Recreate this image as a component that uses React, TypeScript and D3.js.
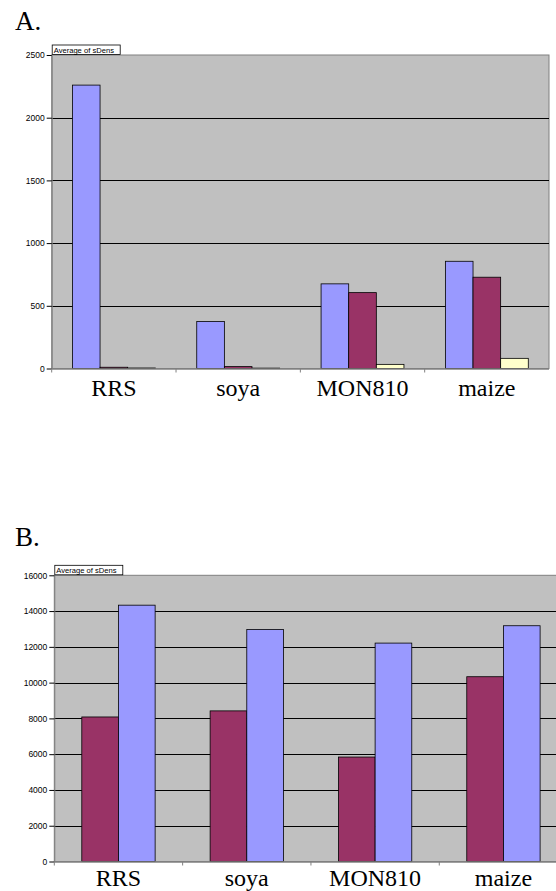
import * as d3 from "d3";
import { useEffect, useRef } from "react";

// categories shared by both panels
const categories = ["RRS", "soya", "MON810", "maize"];

// panel A: three series (blue, purple, pale yellow)
const aSeries = ["blue", "purple", "yellow"];
const aBlue = [2260, 375, 675, 855];
const aPurple = [10, 15, 605, 728];
const aYellow = [4, 3, 33, 81];
const aTicks = [0, 500, 1000, 1500, 2000, 2500];

// panel B: two series (purple, blue)
const bSeries = ["purple", "blue"];
const bPurple = [8080, 8420, 5840, 10330];
const bBlue = [14330, 12970, 12210, 13180];
const bTicks = [0, 2000, 4000, 6000, 8000, 10000, 12000, 14000, 16000];

const colors: Record<string, string> = {
  blue: "#9999ff",
  purple: "#993366",
  yellow: "#ffffcc",
};

const SERIF = "'Liberation Serif', 'Times New Roman', Times, serif";
const SANS = "'Liberation Sans', Arial, sans-serif";

function drawPanel(
  root: d3.Selection<SVGSVGElement, unknown, null, undefined>,
  opts: {
    label: string;
    labelY: number;
    left: number;
    right: number;
    top: number;
    bottom: number;
    max: number;
    ticks: number[];
    series: string[];
    values: number[][];
    catLabelY: number;
  }
) {
  const { left, right, top, bottom } = opts;
  const g = root.append("g");

  // panel letter
  g.append("text")
    .attr("x", 15)
    .attr("y", opts.labelY)
    .attr("font-family", SERIF)
    .style("font-family", SERIF)
    .style("font-size", "27px")
    .text(opts.label);

  const x0 = d3.scaleBand().domain(categories).range([left, right]).padding(0);
  const x1 = d3
    .scaleBand()
    .domain(opts.series)
    .range([0, x0.bandwidth()])
    .paddingInner(0)
    .paddingOuter(0.75);
  const y = d3.scaleLinear().domain([0, opts.max]).range([bottom, top]);

  // plot area
  g.append("rect")
    .attr("x", left)
    .attr("y", top)
    .attr("width", right - left)
    .attr("height", bottom - top)
    .attr("fill", "#c0c0c0")
    .attr("stroke", "#808080")
    .attr("stroke-width", 1);

  // gridlines
  g.selectAll("line.grid")
    .data(opts.ticks.filter((t) => t > 0 && t < opts.max))
    .join("line")
    .attr("class", "grid")
    .attr("x1", left)
    .attr("x2", right)
    .attr("y1", (d) => Math.round(y(d)) + 0.5)
    .attr("y2", (d) => Math.round(y(d)) + 0.5)
    .attr("stroke", "#000")
    .attr("stroke-width", 1);

  // bars
  g.selectAll("g.group")
    .data(categories)
    .join("g")
    .attr("class", "group")
    .attr("transform", (d) => `translate(${x0(d)},0)`)
    .selectAll("rect")
    .data((d, i) => opts.series.map((s, j) => ({ key: s, value: opts.values[j][i] })))
    .join("rect")
    .attr("x", (d) => x1(d.key)!)
    .attr("y", (d) => y(d.value))
    .attr("width", x1.bandwidth())
    .attr("height", (d) => bottom - y(d.value))
    .attr("fill", (d) => colors[d.key])
    .attr("stroke", "#000")
    .attr("stroke-width", 0.8);

  // y axis
  const yAxis = g
    .append("g")
    .attr("transform", `translate(${left},0)`)
    .call(
      d3
        .axisLeft(y)
        .tickValues(opts.ticks)
        .tickFormat(d3.format("d"))
        .tickSize(5)
        .tickPadding(2)
        .tickSizeOuter(0)
    );
  yAxis.select(".domain").attr("stroke", "#808080");
  yAxis.selectAll(".tick line").attr("stroke", "#000");
  yAxis
    .selectAll("text")
    .style("font-family", SANS)
    .style("font-size", "8.5px")
    .attr("fill", "#000");

  // x axis: ticks at category boundaries
  g.append("line")
    .attr("x1", left)
    .attr("x2", right)
    .attr("y1", bottom + 0.5)
    .attr("y2", bottom + 0.5)
    .attr("stroke", "#808080")
    .attr("stroke-width", 1.5);
  g.selectAll("line.xtick")
    .data(categories)
    .join("line")
    .attr("class", "xtick")
    .attr("x1", (d) => x0(d)!)
    .attr("x2", (d) => x0(d)!)
    .attr("y1", bottom)
    .attr("y2", bottom + 4)
    .attr("stroke", "#808080");

  g.selectAll("text.cat")
    .data(categories)
    .join("text")
    .attr("class", "cat")
    .attr("x", (d) => x0(d)! + x0.bandwidth() / 2)
    .attr("y", opts.catLabelY)
    .attr("text-anchor", "middle")
    .attr("font-family", SERIF)
    .style("font-family", SERIF)
    .style("font-size", "24px")
    .text((d) => d);

  // "Average of sDens" field button
  const btn = g.append("g").attr("transform", `translate(${left + 0.5},${top - 10})`);
  btn
    .append("rect")
    .attr("width", 68)
    .attr("height", 9.5)
    .attr("fill", "#fff")
    .attr("stroke", "#000")
    .attr("stroke-width", 0.8);
  btn
    .append("text")
    .attr("x", 1.5)
    .attr("y", 7.6)
    .style("font-family", SANS)
    .style("font-size", "7.6px")
    .text("Average of sDens");
}

export default function App() {
  const ref = useRef<SVGSVGElement>(null);

  useEffect(() => {
    const svg = d3.select(ref.current!);
    svg.selectAll("*").remove();

    drawPanel(svg, {
      label: "A.",
      labelY: 30,
      left: 51.7,
      right: 549,
      top: 55,
      bottom: 368.5,
      max: 2500,
      ticks: aTicks,
      series: aSeries,
      values: [aBlue, aPurple, aYellow],
      catLabelY: 396,
    });

    drawPanel(svg, {
      label: "B.",
      labelY: 546,
      left: 54.3,
      right: 567.6,
      top: 575.3,
      bottom: 861.5,
      max: 16000,
      ticks: bTicks,
      series: bSeries,
      values: [bPurple, bBlue],
      catLabelY: 886,
    });
  }, []);

  return (
    <div style={{ position: "absolute", left: 0, top: 0, width: 556, height: 891, overflow: "hidden" }}>
      <svg ref={ref} width={556} height={891} style={{ display: "block", background: "#fff" }} />
    </div>
  );
}
